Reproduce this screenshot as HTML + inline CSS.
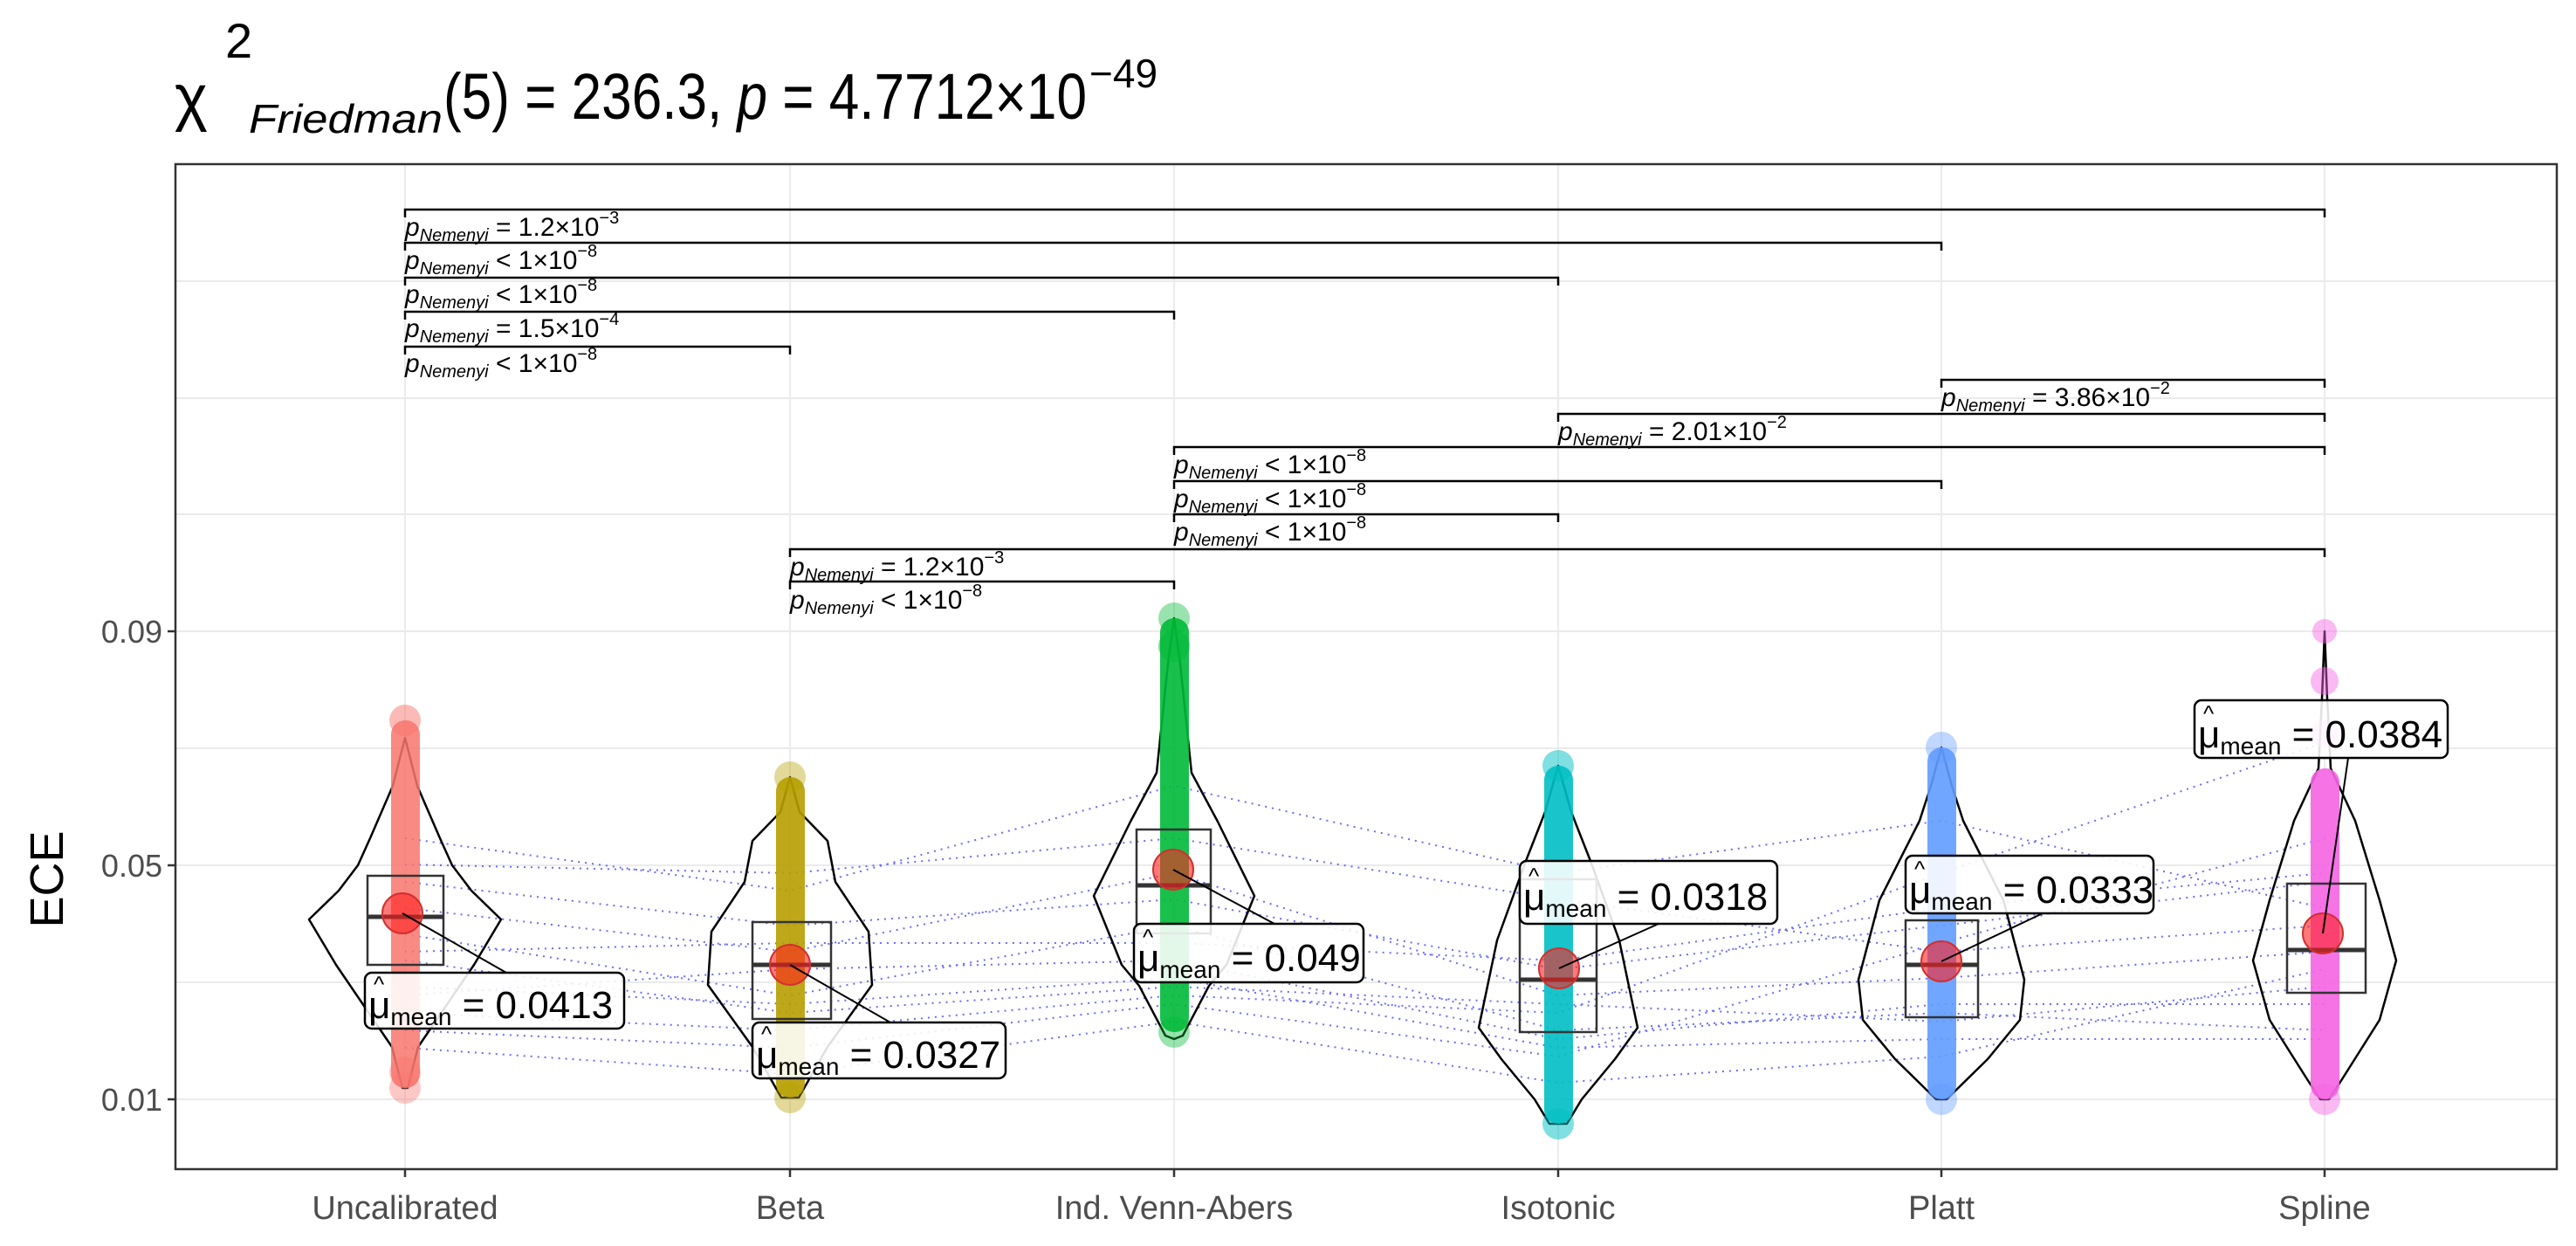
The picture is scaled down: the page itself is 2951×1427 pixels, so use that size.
<!DOCTYPE html>
<html><head><meta charset="utf-8"><style>
html,body{margin:0;padding:0;background:#fff}
svg{display:block}
text{font-family:"Liberation Sans",sans-serif}
.bl{font-size:30px;fill:#000}
.ml{font-size:44px;fill:#000}
</style></head><body>
<svg width="2951" height="1427" viewBox="0 0 2951 1427" xmlns="http://www.w3.org/2000/svg">
<rect width="2951" height="1427" fill="#fff"/>
<!-- title -->
<text x="200" y="136" font-size="72">χ</text>
<text x="258" y="66" font-size="56">2</text>
<text x="285" y="152" font-size="46" font-style="italic" textLength="222" lengthAdjust="spacingAndGlyphs">Friedman</text>
<text x="508" y="136" font-size="74" textLength="737" lengthAdjust="spacingAndGlyphs">(5) = 236.3, <tspan font-style="italic">p</tspan> = 4.7712×10</text>
<text x="1248" y="100" font-size="46">−49</text>
<!-- grid -->
<g stroke="#ebebeb" stroke-width="2">
<line x1="201" x2="2929" y1="1259" y2="1259"/><line x1="201" x2="2929" y1="1125" y2="1125"/>
<line x1="201" x2="2929" y1="991" y2="991"/><line x1="201" x2="2929" y1="857" y2="857"/>
<line x1="201" x2="2929" y1="723" y2="723"/><line x1="201" x2="2929" y1="589" y2="589"/>
<line x1="201" x2="2929" y1="456" y2="456"/><line x1="201" x2="2929" y1="322" y2="322"/>
<line y1="188" y2="1339" x1="464" x2="464"/><line y1="188" y2="1339" x1="905" x2="905"/>
<line y1="188" y2="1339" x1="1345" x2="1345"/><line y1="188" y2="1339" x1="1785" x2="1785"/>
<line y1="188" y2="1339" x1="2224" x2="2224"/><line y1="188" y2="1339" x1="2663" x2="2663"/>
</g>
<!-- dotted paired lines -->
<g fill="none" stroke="#3a3aff" stroke-width="2" stroke-dasharray="2 6" opacity="0.75">
<polyline points="464,960 905,1020 1345,900 1785,1000 2224,940 2663,1040"/>
<polyline points="464,1010 905,1060 1345,1030 1785,1110 2224,1060 2663,1010"/>
<polyline points="464,1040 905,1090 1345,1000 1785,1140 2224,1120 2663,1090"/>
<polyline points="464,1070 905,1140 1345,1060 1785,1180 2224,1160 2663,1180"/>
<polyline points="464,1100 905,1160 1345,1130 1785,1150 2224,1170 2663,1130"/>
<polyline points="464,1130 905,1150 1345,1120 1785,1200 2224,1190 2663,1190"/>
<polyline points="464,1160 905,1180 1345,1140 1785,1160 2224,1000 2663,850"/>
<polyline points="464,1180 905,1200 1345,1150 1785,1210 2224,1080 2663,960"/>
<polyline points="464,990 905,1000 1345,960 1785,1030 2224,1090 2663,1060"/>
<polyline points="464,1090 905,1080 1345,1080 1785,1100 2224,1040 2663,1000"/>
<polyline points="464,1140 905,1110 1345,1100 1785,1190 2224,1150 2663,1150"/>
<polyline points="464,1200 905,1230 1345,1170 1785,1240 2224,1210 2663,1110"/>
</g>
<!-- violins -->
<g fill="none" stroke="#000" stroke-width="2.5" stroke-linejoin="round">
<path d="M464,845 L478,900 L504,960 L518,991 L540,1020 L574,1053 L543,1105 L511,1152 L479,1199 L467,1246 L461,1246 L449,1199 L417,1152 L385,1105 L354,1053 L388,1020 L410,991 L424,960 L450,900 Z"/>
<path d="M905,890 L916,930 L948,963 L957,1010 L995,1067 L999,1128 L948,1199 L915,1257 L895,1257 L862,1199 L811,1128 L815,1067 L853,1010 L862,963 L894,930 Z"/>
<path d="M1345,708 L1352,760 L1365,885 L1395,941 L1437,1026 L1405,1105 L1385,1129 L1355,1186 L1345,1190 L1335,1186 L1305,1129 L1285,1105 L1253,1026 L1295,941 L1325,885 L1338,760 Z"/>
<path d="M1785,877 L1800,930 L1822,986 L1855,1077 L1876,1177 L1850,1213 L1812,1259 L1795,1287 L1775,1287 L1758,1259 L1720,1213 L1694,1177 L1715,1077 L1748,986 L1770,930 Z"/>
<path d="M2224,856 L2236,900 L2249,940 L2295,1031 L2319,1122 L2314,1168 L2277,1213 L2230,1259 L2218,1259 L2171,1213 L2134,1168 L2129,1122 L2153,1031 L2199,940 L2212,900 Z"/>
<path d="M2663,723 L2666,800 L2670,880 L2698,940 L2726,1031 L2745,1100 L2726,1168 L2683,1236 L2668,1259 L2658,1259 L2643,1236 L2600,1168 L2581,1100 L2600,1031 L2628,940 L2656,880 L2660,800 Z"/>
</g>
<!-- points columns -->
<g>
<rect x="448" y="825" width="33" height="421" rx="16" fill="#F8766D" opacity="0.85"/>
<circle cx="464" cy="825" r="18" fill="#F8766D" opacity="0.5"/><circle cx="464" cy="1246" r="18" fill="#F8766D" opacity="0.4"/><circle cx="464" cy="1228" r="18" fill="#F8766D" opacity="0.4"/>
<rect x="889" y="890" width="33" height="367" rx="16" fill="#B79F00" opacity="0.9"/>
<circle cx="905" cy="890" r="18" fill="#B79F00" opacity="0.4"/><circle cx="905" cy="1257" r="18" fill="#B79F00" opacity="0.4"/>
<rect x="1329" y="708" width="33" height="474" rx="16" fill="#00BA38" opacity="0.9"/>
<circle cx="1345" cy="708" r="18" fill="#00BA38" opacity="0.4"/><circle cx="1345" cy="1182" r="18" fill="#00BA38" opacity="0.4"/><circle cx="1345" cy="740" r="18" fill="#00BA38" opacity="0.5"/>
<rect x="1769" y="877" width="33" height="410" rx="16" fill="#00BFC4" opacity="0.9"/>
<circle cx="1785" cy="877" r="18" fill="#00BFC4" opacity="0.5"/><circle cx="1785" cy="1287" r="18" fill="#00BFC4" opacity="0.5"/>
<rect x="2208" y="856" width="33" height="403" rx="16" fill="#619CFF" opacity="0.9"/>
<circle cx="2224" cy="856" r="18" fill="#619CFF" opacity="0.4"/><circle cx="2224" cy="1259" r="18" fill="#619CFF" opacity="0.4"/>
<rect x="2647" y="880" width="33" height="379" rx="16" fill="#F564E3" opacity="0.9"/>
<circle cx="2663" cy="723" r="14" fill="#F564E3" opacity="0.45"/><circle cx="2663" cy="780" r="16" fill="#F564E3" opacity="0.45"/><circle cx="2663" cy="840" r="16" fill="#F564E3" opacity="0.45"/><circle cx="2663" cy="1259" r="18" fill="#F564E3" opacity="0.45"/>
</g>
<!-- boxes -->
<g fill="none" stroke="#333" stroke-width="2.5">
<rect x="421" y="1003" width="87" height="102"/><line x1="421" x2="508" y1="1050" y2="1050" stroke-width="5"/>
<rect x="862" y="1056" width="90" height="111"/><line x1="862" x2="952" y1="1105" y2="1105" stroke-width="5"/>
<rect x="1302" y="950" width="85" height="119"/><line x1="1302" x2="1387" y1="1014" y2="1014" stroke-width="5"/>
<rect x="1741" y="1007" width="88" height="175"/><line x1="1741" x2="1829" y1="1122" y2="1122" stroke-width="5"/>
<rect x="2183" y="1054" width="83" height="111"/><line x1="2183" x2="2266" y1="1105" y2="1105" stroke-width="5"/>
<rect x="2620" y="1012" width="90" height="125"/><line x1="2620" x2="2710" y1="1088" y2="1088" stroke-width="5"/>
</g>
<!-- means -->
<g fill="#ff2020" fill-opacity="0.6" stroke="#d03030" stroke-width="2">
<circle cx="461" cy="1046" r="23"/><circle cx="905" cy="1105" r="23"/><circle cx="1344" cy="996" r="23"/>
<circle cx="1786" cy="1109" r="23"/><circle cx="2224" cy="1101" r="23"/><circle cx="2661" cy="1069" r="23"/>
</g>
<!-- connectors -->
<g stroke="#000" stroke-width="2">
<line x1="461" y1="1046" x2="580" y2="1114"/><line x1="905" y1="1105" x2="1020" y2="1171"/>
<line x1="1344" y1="996" x2="1460" y2="1058"/><line x1="1786" y1="1109" x2="1900" y2="1058"/>
<line x1="2224" y1="1101" x2="2340" y2="1046"/><line x1="2661" y1="1069" x2="2690" y2="868"/>
</g>
<!-- label boxes -->
<g fill="#fff" fill-opacity="0.88" stroke="#000" stroke-width="2.5">
<rect x="418" y="1114" width="297" height="64" rx="8"/><rect x="862" y="1171" width="290" height="64" rx="8"/>
<rect x="1299" y="1058" width="263" height="67" rx="8"/><rect x="1741" y="986" width="295" height="72" rx="8"/>
<rect x="2183" y="980" width="284" height="66" rx="8"/><rect x="2514" y="802" width="290" height="66" rx="8"/>
</g>
<g class="ml">
<text x="422" y="1166">μ<tspan font-size="28" dy="8">mean</tspan><tspan dy="-8"> = 0.0413</tspan></text>
<text x="428" y="1136" font-size="26">^</text>
<text x="866" y="1223">μ<tspan font-size="28" dy="8">mean</tspan><tspan dy="-8"> = 0.0327</tspan></text>
<text x="872" y="1193" font-size="26">^</text>
<text x="1303" y="1112">μ<tspan font-size="28" dy="8">mean</tspan><tspan dy="-8"> = 0.049</tspan></text>
<text x="1309" y="1082" font-size="26">^</text>
<text x="1745" y="1042">μ<tspan font-size="28" dy="8">mean</tspan><tspan dy="-8"> = 0.0318</tspan></text>
<text x="1751" y="1012" font-size="26">^</text>
<text x="2187" y="1034">μ<tspan font-size="28" dy="8">mean</tspan><tspan dy="-8"> = 0.0333</tspan></text>
<text x="2193" y="1004" font-size="26">^</text>
<text x="2518" y="856">μ<tspan font-size="28" dy="8">mean</tspan><tspan dy="-8"> = 0.0384</tspan></text>
<text x="2524" y="826" font-size="26">^</text>
</g>
<!-- brackets -->
<g fill="none" stroke="#000" stroke-width="2.5">
<polyline points="464,249 464,240 2663,240 2663,249"/>
<polyline points="464,287 464,278 2224,278 2224,287"/>
<polyline points="464,327 464,318 1785,318 1785,327"/>
<polyline points="464,366 464,357 1345,357 1345,366"/>
<polyline points="464,406 464,397 905,397 905,406"/>
<polyline points="2224,444 2224,435 2663,435 2663,444"/>
<polyline points="1785,483 1785,474 2663,474 2663,483"/>
<polyline points="1345,521 1345,512 2663,512 2663,521"/>
<polyline points="1345,560 1345,551 2224,551 2224,560"/>
<polyline points="1345,598 1345,589 1785,589 1785,598"/>
<polyline points="905,638 905,629 2663,629 2663,638"/>
<polyline points="905,675 905,666 1345,666 1345,675"/>
</g>
<g class="bl">
<text x="464" y="270"><tspan font-style="italic">p</tspan><tspan font-size="20" font-style="italic" dy="6">Nemenyi</tspan><tspan dy="-6"> = 1.2×10</tspan><tspan font-size="20" dy="-14">−3</tspan></text>
<text x="464" y="308"><tspan font-style="italic">p</tspan><tspan font-size="20" font-style="italic" dy="6">Nemenyi</tspan><tspan dy="-6"> &lt; 1×10</tspan><tspan font-size="20" dy="-14">−8</tspan></text>
<text x="464" y="347"><tspan font-style="italic">p</tspan><tspan font-size="20" font-style="italic" dy="6">Nemenyi</tspan><tspan dy="-6"> &lt; 1×10</tspan><tspan font-size="20" dy="-14">−8</tspan></text>
<text x="464" y="386"><tspan font-style="italic">p</tspan><tspan font-size="20" font-style="italic" dy="6">Nemenyi</tspan><tspan dy="-6"> = 1.5×10</tspan><tspan font-size="20" dy="-14">−4</tspan></text>
<text x="464" y="426"><tspan font-style="italic">p</tspan><tspan font-size="20" font-style="italic" dy="6">Nemenyi</tspan><tspan dy="-6"> &lt; 1×10</tspan><tspan font-size="20" dy="-14">−8</tspan></text>
<text x="2224" y="465"><tspan font-style="italic">p</tspan><tspan font-size="20" font-style="italic" dy="6">Nemenyi</tspan><tspan dy="-6"> = 3.86×10</tspan><tspan font-size="20" dy="-14">−2</tspan></text>
<text x="1785" y="504"><tspan font-style="italic">p</tspan><tspan font-size="20" font-style="italic" dy="6">Nemenyi</tspan><tspan dy="-6"> = 2.01×10</tspan><tspan font-size="20" dy="-14">−2</tspan></text>
<text x="1345" y="542"><tspan font-style="italic">p</tspan><tspan font-size="20" font-style="italic" dy="6">Nemenyi</tspan><tspan dy="-6"> &lt; 1×10</tspan><tspan font-size="20" dy="-14">−8</tspan></text>
<text x="1345" y="581"><tspan font-style="italic">p</tspan><tspan font-size="20" font-style="italic" dy="6">Nemenyi</tspan><tspan dy="-6"> &lt; 1×10</tspan><tspan font-size="20" dy="-14">−8</tspan></text>
<text x="1345" y="619"><tspan font-style="italic">p</tspan><tspan font-size="20" font-style="italic" dy="6">Nemenyi</tspan><tspan dy="-6"> &lt; 1×10</tspan><tspan font-size="20" dy="-14">−8</tspan></text>
<text x="905" y="659"><tspan font-style="italic">p</tspan><tspan font-size="20" font-style="italic" dy="6">Nemenyi</tspan><tspan dy="-6"> = 1.2×10</tspan><tspan font-size="20" dy="-14">−3</tspan></text>
<text x="905" y="697"><tspan font-style="italic">p</tspan><tspan font-size="20" font-style="italic" dy="6">Nemenyi</tspan><tspan dy="-6"> &lt; 1×10</tspan><tspan font-size="20" dy="-14">−8</tspan></text>
</g>
<!-- panel -->
<rect x="201" y="188" width="2728" height="1151" fill="none" stroke="#333" stroke-width="2.5"/>
<!-- axes -->
<g stroke="#333" stroke-width="2.5">
<line x1="192" x2="201" y1="723" y2="723"/><line x1="192" x2="201" y1="991" y2="991"/><line x1="192" x2="201" y1="1259" y2="1259"/>
<line y1="1339" y2="1348" x1="464" x2="464"/><line y1="1339" y2="1348" x1="905" x2="905"/><line y1="1339" y2="1348" x1="1345" x2="1345"/>
<line y1="1339" y2="1348" x1="1785" x2="1785"/><line y1="1339" y2="1348" x1="2224" x2="2224"/><line y1="1339" y2="1348" x1="2663" x2="2663"/>
</g>
<g font-size="36" fill="#4d4d4d" text-anchor="end">
<text x="186" y="736">0.09</text><text x="186" y="1004">0.05</text><text x="186" y="1272">0.01</text>
</g>
<g font-size="38" fill="#4d4d4d" text-anchor="middle">
<text x="464" y="1396">Uncalibrated</text><text x="905" y="1396">Beta</text><text x="1345" y="1396">Ind. Venn-Abers</text>
<text x="1785" y="1396">Isotonic</text><text x="2224" y="1396">Platt</text><text x="2663" y="1396">Spline</text>
</g>
<text x="72" y="1007" font-size="54" text-anchor="middle" transform="rotate(-90 72 1007)">ECE</text>
</svg>
</body></html>
